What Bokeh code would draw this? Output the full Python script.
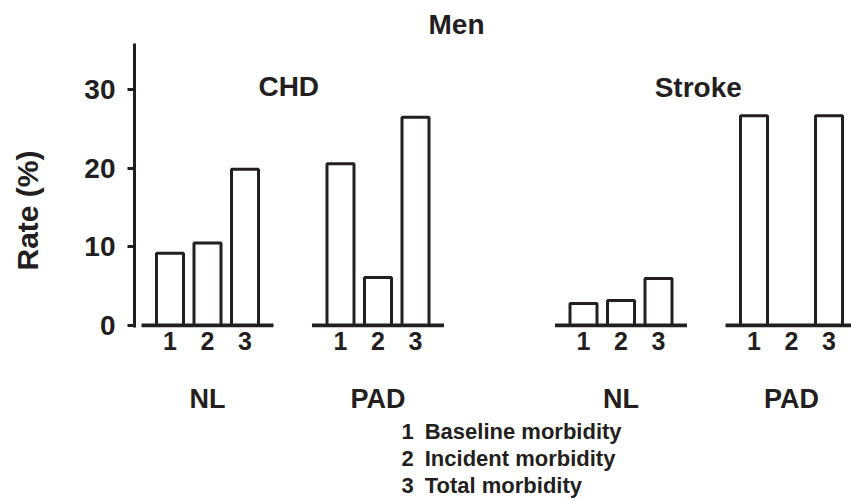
import math
from bokeh.plotting import figure
from bokeh.models import Range1d, LinearAxis, FixedTicker, Label, ColumnDataSource, Title
from bokeh.embed import file_html
from bokeh.resources import INLINE

# ---------------- data ----------------
title_text = "Men"
diseases = ["CHD", "Stroke"]
groups = ["NL", "PAD"]
measures = ["1", "2", "3"]
legend_labels = ["Baseline morbidity", "Incident morbidity", "Total morbidity"]
chd_nl = [9.2, 10.5, 19.9]
chd_pad = [20.6, 6.1, 26.5]
stroke_nl = [2.8, 3.2, 6.0]
stroke_pad = [26.7, 0.0, 26.7]
y_ticks = [0, 10, 20, 30]
y_label = "Rate (%)"

series = [chd_nl, chd_pad, stroke_nl, stroke_pad]

# ---------------- layout ----------------
INK = "#231f20"
FONT = "Liberation Sans"
W, H = 851, 499
LEFT = 134
TOP = 43
FRAME_H = 284
BOTTOM = TOP + FRAME_H
Y0, Y1 = -0.25, 35.9
PXU = FRAME_H / (Y1 - Y0)          # pixels per y unit

FIRST = 73.0        # centre of first group (px from axis)
WITHIN = 170.5      # NL -> PAD gap
BETWEEN = 243.0     # CHD PAD -> Stroke NL gap
SPACING = 37.5      # bar pitch
BAR_W = 27.0
BASE_HALF = 66.0
YLABEL_PAD = 6      # trailing no-break spaces: moves the y label down from centre

group_centres = []
c = FIRST
for d in range(len(diseases)):
    for g in range(len(groups)):
        group_centres.append(c)
        c += WITHIN if g == 0 else BETWEEN

p = figure(width=W, height=H, output_backend="svg", toolbar_location=None,
           title=None,
           x_range=Range1d(0, W - LEFT), y_range=Range1d(Y0, Y1),
           x_axis_location=None,
           min_border_left=LEFT, min_border_right=0,
           min_border_top=TOP, min_border_bottom=H - BOTTOM)
p.outline_line_color = None
p.grid.visible = False
p.background_fill_color = "white"
p.border_fill_color = "white"


def bold(size):
    return dict(text_font=FONT, text_font_size=f"{size}px", text_font_style="bold", text_color=INK)


# y axis
ya = p.yaxis[0]
ya.ticker = FixedTicker(ticks=y_ticks)
ya.axis_line_width = 3
ya.axis_line_color = INK
ya.major_tick_line_width = 3
ya.major_tick_line_color = INK
ya.major_tick_out = 7
ya.major_tick_in = 0
ya.minor_tick_line_color = None
ya.major_label_text_font = FONT
ya.major_label_text_font_size = "28px"
ya.major_label_text_font_style = "bold"
ya.major_label_text_color = INK
ya.major_label_standoff = 12
ya.axis_label = y_label + "\u00a0" * YLABEL_PAD
ya.axis_label_text_font = FONT
ya.axis_label_text_font_size = "30px"
ya.axis_label_text_font_style = "bold"
ya.axis_label_text_color = INK
ya.axis_label_standoff = 37

# bars
lefts, rights, tops, tick_x, overrides = [], [], [], [], {}
for gc, vals in zip(group_centres, series):
    for k, v in enumerate(vals):
        cx = gc + (k - 1) * SPACING
        lefts.append(cx - BAR_W / 2)
        rights.append(cx + BAR_W / 2)
        tops.append(v)
        tick_x.append(cx)
        overrides[cx] = measures[k]

src = ColumnDataSource(dict(left=lefts, right=rights, top=tops, bottom=[0] * len(tops)))
p.quad(left="left", right="right", top="top", bottom="bottom", source=src,
       fill_color="white", line_color=INK, line_width=3)

# baselines
p.segment(x0=[g - BASE_HALF for g in group_centres], x1=[g + BASE_HALF for g in group_centres],
          y0=[0] * 4, y1=[0] * 4, line_color=INK, line_width=4)

# number axis under the bars
xa = LinearAxis(ticker=FixedTicker(ticks=tick_x), major_label_overrides=overrides,
                axis_line_color=None, major_tick_line_color=None, minor_tick_line_color=None,
                major_tick_out=0, major_tick_in=0, major_label_standoff=4,
                major_label_text_font=FONT, major_label_text_font_size="25px",
                major_label_text_font_style="bold", major_label_text_color=INK)
p.add_layout(xa, "below")

# group axis (NL / PAD)
ga = LinearAxis(ticker=FixedTicker(ticks=group_centres),
                major_label_overrides={gc: groups[i % 2] for i, gc in enumerate(group_centres)},
                axis_line_color=None, major_tick_line_color=None, minor_tick_line_color=None,
                major_tick_out=0, major_tick_in=0, major_label_standoff=31,
                major_label_text_font=FONT, major_label_text_font_size="27px",
                major_label_text_font_style="bold", major_label_text_color=INK)
p.add_layout(ga, "below")

# disease labels (inside the plotting area)
for name, (a, b), shift, img_y in [(diseases[0], (0, 1), -4, 86), (diseases[1], (2, 3), -8, 87)]:
    p.add_layout(Label(x=(group_centres[a] + group_centres[b]) / 2 + shift,
                       y=(BOTTOM - 2 - img_y) / PXU, text=name,
                       text_align="center", text_baseline="alphabetic", **bold(28)))

# title
p.add_layout(Title(text=title_text, align="left", offset=294, standoff=8, **bold(28)), "above")
# legend
for i, t in enumerate(legend_labels):
    p.add_layout(Title(text=f"{measures[i]}\u2002{t}", align="left", offset=267, standoff=0,
                       **bold(22)), "below")

open("out.html", "w").write(file_html(p, INLINE))
